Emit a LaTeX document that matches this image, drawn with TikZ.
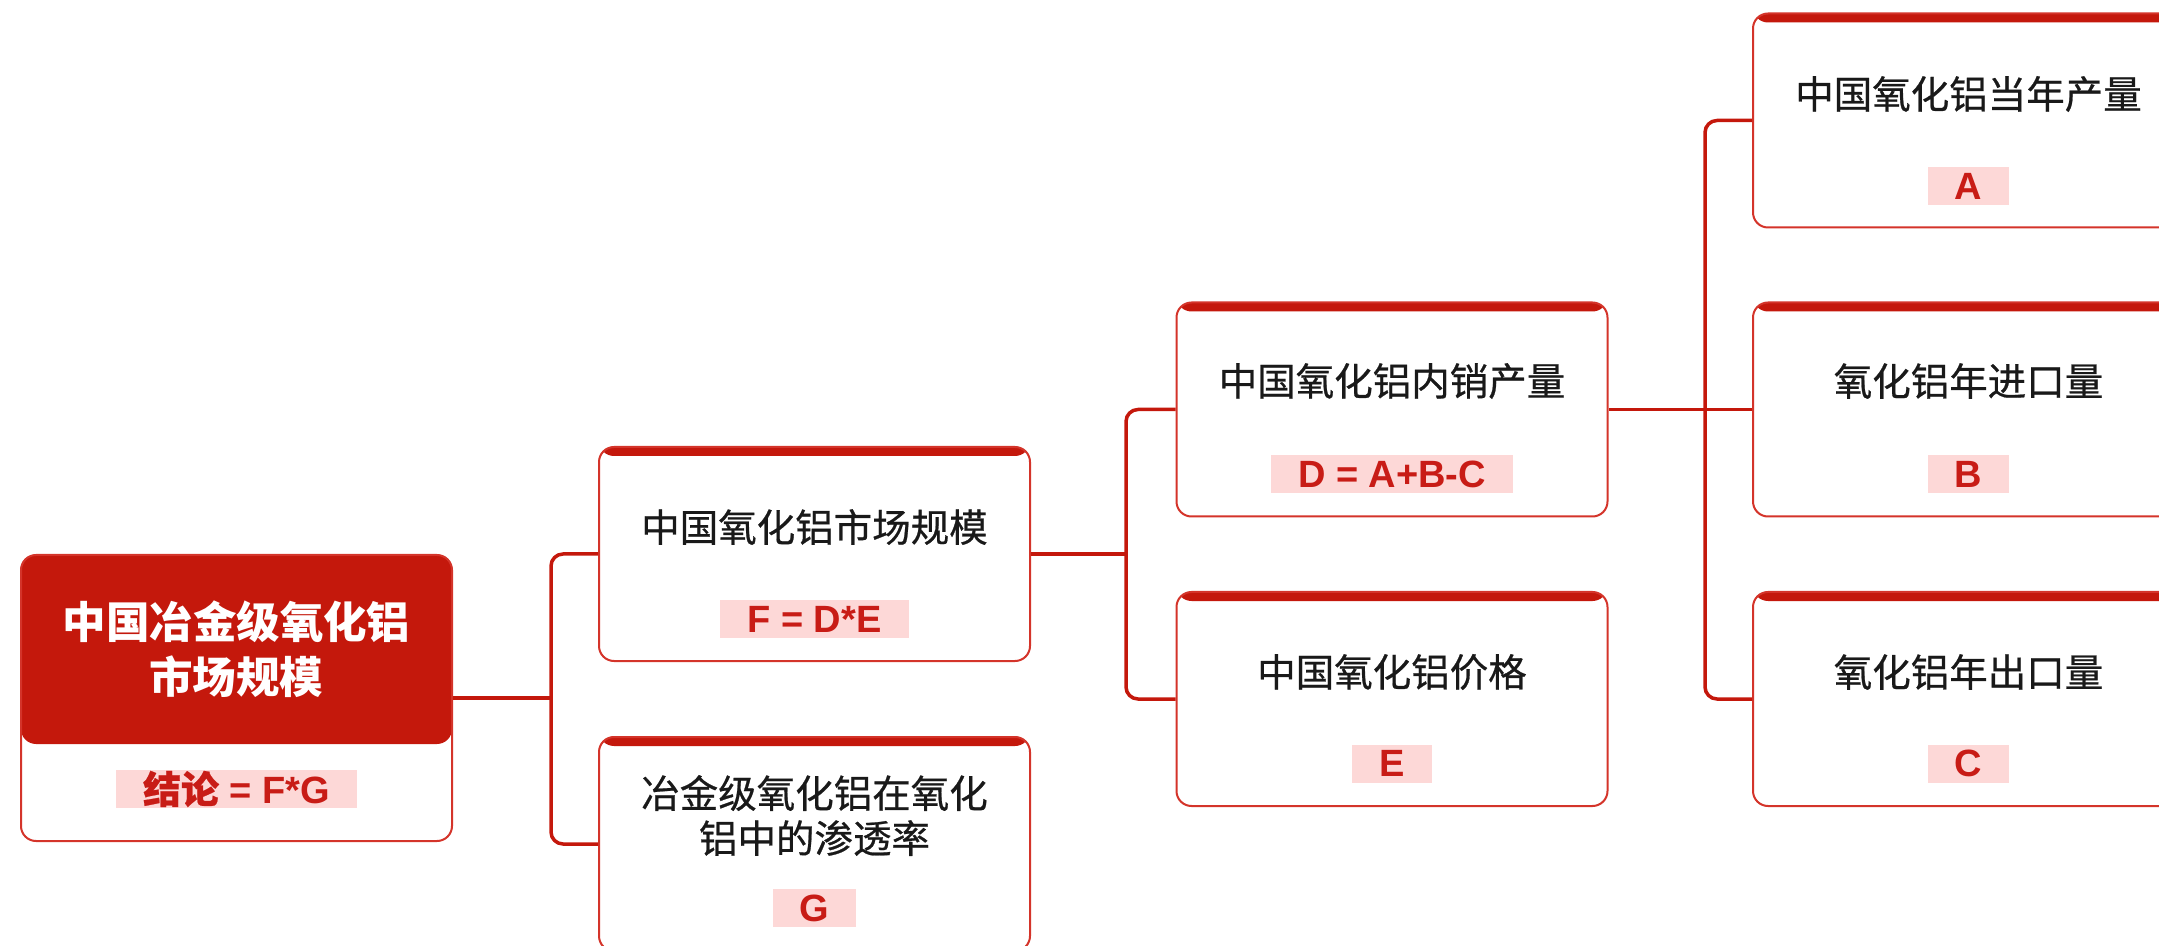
\documentclass[tikz,border=0pt]{standalone}
\usepackage{fontspec}
\setmainfont{Liberation Sans}
\newfontfamily\cjk{Noto Sans CJK SC}
\newfontfamily\cjkm[FakeBold=0.6]{Noto Sans CJK SC}
\definecolor{dred}{RGB}{196,24,12}
\definecolor{bred}{RGB}{212,52,42}
\definecolor{lpink}{RGB}{253,216,215}
\definecolor{lred}{RGB}{200,28,22}
\definecolor{tblack}{RGB}{25,25,25}
\tikzset{
  childbox/.style={draw=bred, line width=1pt, fill=white, rounded corners=7.5pt,
    minimum width=215.5pt, minimum height=107pt, inner sep=0pt,
    path picture={\fill[dred] (path picture bounding box.north west) rectangle ([yshift=-4.5pt]path picture bounding box.north east);}},
  rootbox/.style={draw=bred, line width=1pt, fill=white, rounded corners=7.5pt,
    minimum width=215.5pt, minimum height=143pt, inner sep=0pt,
    path picture={\fill[dred] (path picture bounding box.north west) rectangle ([yshift=-94.5pt]path picture bounding box.north east);}},
  ttl/.style={font=\cjkm\fontsize{19.25pt}{22.5pt}\selectfont, text=tblack, align=center, inner sep=0pt},
  roottl/.style={font=\cjk\bfseries\fontsize{21.75pt}{27.5pt}\selectfont, text=white, align=center, inner sep=0pt},
  lbl/.style={fill=lpink, text=lred, font=\bfseries\fontsize{19pt}{19pt}\selectfont,
    inner xsep=13.5pt, inner ysep=0pt, minimum height=19pt},
  conn/.style={draw=dred, line width=1.75pt, rounded corners=6pt},
  straight/.style={draw=dred, line width=1.75pt},
}
\begin{document}
\begin{tikzpicture}[x=0.5pt,y=-0.5pt]
\useasboundingbox (0,0) rectangle (2159,946);
% boxes
\node[rootbox] (R) at (236.5,698) {};
\node[childbox] (F) at (814.5,554) {};
\node[childbox] (G) at (814.5,844) {};
\node[childbox] (D) at (1392,409.5) {};
\node[childbox] (E) at (1392,699) {};
\node[childbox] (A) at (1968.5,120.5) {};
\node[childbox] (B) at (1968.5,409.5) {};
\node[childbox] (C) at (1968.5,699) {};
% junctions
\coordinate (j1) at (551,698);
\coordinate (j2) at (1126,554);
\coordinate (j3) at (1705,409.5);
% connectors
\draw[straight] (R.east) -- (j1);
\draw[conn] (F.west) -| (j1) |- (G.west);
\draw[straight] (F.east) -- (j2);
\draw[conn] (D.west) -| (j2) |- (E.west);
\draw[straight] (D.east) -- (B.west);
\draw[conn] (A.west) -| (j3) |- (C.west);
% titles
\node[roottl] (Rt) at (236.5,649.5) {中国冶金级氧化铝\\市场规模};
\node[ttl] (Ft) at (814.5,527) {中国氧化铝市场规模};
\node[ttl] (Gt) at (814.5,815.5) {冶金级氧化铝在氧化\\铝中的渗透率};
\node[ttl] (Dt) at (1392,381) {中国氧化铝内销产量};
\node[ttl] (Et) at (1392,672) {中国氧化铝价格};
\node[ttl] (At) at (1968.5,94) {中国氧化铝当年产量};
\node[ttl] (Bt) at (1968.5,381) {氧化铝年进口量};
\node[ttl] (Ct) at (1968.5,672) {氧化铝年出口量};
% labels
\node[lbl] (Rl) at (236.5,789) {{\cjkm 结论} = F*G};
\node[lbl] (Fl) at (814.5,619) {F = D*E};
\node[lbl] (Gl) at (814.5,908) {G};
\node[lbl] (Dl) at (1392,474.5) {D = A+B-C};
\node[lbl] (El) at (1392,763.5) {E};
\node[lbl] (Al) at (1968.5,186) {A};
\node[lbl] (Bl) at (1968.5,474.5) {B};
\node[lbl] (Cl) at (1968.5,763.5) {C};
\end{tikzpicture}
\end{document}
